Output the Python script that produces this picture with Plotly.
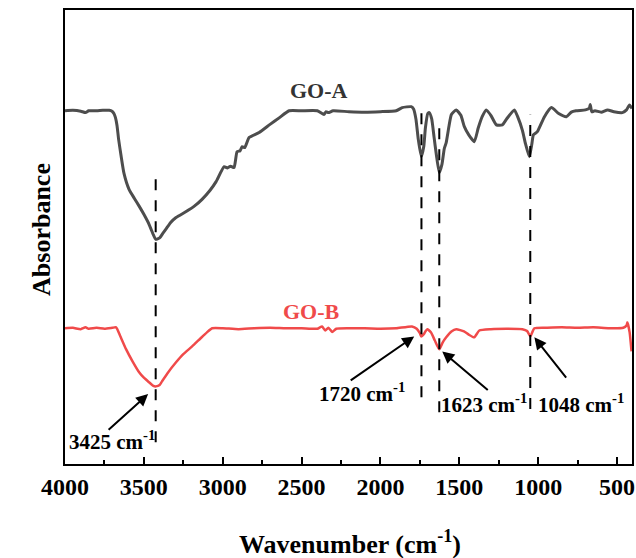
import plotly.graph_objects as go

# GO-A spectrum (wavenumber, absorbance a.u.)
goa_wn = [4000, 3950, 3900, 3870, 3850, 3800, 3760, 3720, 3702, 3690, 3680, 3670, 3660, 3645, 3626, 3594,
          3560, 3530, 3500, 3467, 3440, 3425, 3400, 3380, 3359, 3330, 3296, 3232, 3180, 3131, 3080, 3042, 2991, 2970, 2950, 2928, 2909,
          2890, 2877, 2860, 2833, 2769, 2700, 2640, 2579, 2500, 2400, 2370, 2357, 2345, 2330,
          2300, 2200, 2100, 2000, 1900, 1862, 1805, 1790, 1775, 1760, 1741, 1725, 1715, 1700, 1690, 1675, 1660, 1645, 1627,
          1610, 1595, 1583, 1565, 1550, 1519, 1490, 1468, 1440, 1405, 1380, 1355, 1329, 1300, 1265, 1227, 1200, 1151,
          1130, 1100, 1080, 1056, 1040, 1030, 1005, 960, 916, 870, 821, 790, 760, 700, 675, 670, 660, 640,
          600, 560, 520, 466, 440, 421, 405]
goa_ab = [0.778, 0.779, 0.777, 0.774, 0.778, 0.778, 0.779, 0.779, 0.777, 0.772, 0.763, 0.745, 0.715, 0.680, 0.640, 0.605,
          0.585, 0.568, 0.550, 0.528, 0.505, 0.495, 0.498, 0.508, 0.518, 0.532, 0.543, 0.556, 0.568, 0.583, 0.603, 0.622, 0.655, 0.652, 0.656, 0.653, 0.688,
          0.690, 0.699, 0.697, 0.719, 0.730, 0.748, 0.763, 0.778, 0.778, 0.778, 0.772, 0.770, 0.776, 0.774,
          0.778, 0.776, 0.775, 0.776, 0.778, 0.785, 0.787, 0.782, 0.760, 0.715, 0.677, 0.700, 0.740, 0.772, 0.774, 0.760, 0.720, 0.680, 0.642,
          0.660, 0.695, 0.708, 0.745, 0.770, 0.780, 0.768, 0.743, 0.725, 0.710, 0.740, 0.765, 0.780, 0.768, 0.747, 0.747, 0.760, 0.780,
          0.765, 0.735, 0.705, 0.677, 0.705, 0.725, 0.732, 0.765, 0.785, 0.772, 0.765, 0.775, 0.778, 0.780, 0.784, 0.792, 0.776, 0.778,
          0.775, 0.780, 0.776, 0.774, 0.780, 0.791, 0.783]

# GO-B spectrum
gob_wn = [4000, 3950, 3900, 3870, 3850, 3800, 3750, 3700, 3676, 3650, 3613, 3570, 3530, 3500, 3467, 3440, 3423, 3400,
          3385, 3350, 3296, 3250, 3194, 3140, 3100, 3067, 3000, 2900, 2800, 2700, 2600, 2500, 2400, 2370, 2350, 2330,
          2306, 2280, 2200, 2100, 2000, 1900, 1800, 1770, 1750, 1741, 1725, 1715, 1703, 1680, 1655, 1627, 1605, 1583, 1550, 1519,
          1470, 1440, 1405, 1373, 1300, 1200, 1100, 1070, 1050, 1035, 1024, 950, 850, 750, 650, 550, 460, 440,
          434, 420, 408]
gob_ab = [0.299, 0.300, 0.297, 0.301, 0.298, 0.300, 0.298, 0.300, 0.301, 0.282, 0.253, 0.225, 0.202, 0.190, 0.180, 0.172, 0.171, 0.174,
          0.182, 0.200, 0.224, 0.242, 0.259, 0.277, 0.290, 0.299, 0.299, 0.297, 0.299, 0.300, 0.299, 0.299, 0.298, 0.303, 0.294, 0.300,
          0.291, 0.298, 0.299, 0.299, 0.298, 0.299, 0.303, 0.298, 0.288, 0.281, 0.286, 0.292, 0.297, 0.290, 0.272, 0.253, 0.268, 0.279, 0.292, 0.297,
          0.292, 0.285, 0.279, 0.294, 0.297, 0.298, 0.297, 0.293, 0.281, 0.292, 0.299, 0.300, 0.301, 0.300, 0.301, 0.299, 0.300, 0.305,
          0.312, 0.290, 0.248]

# Peak guide lines (position, y bottom, y top)
peak_pos = [3425, 1740, 1627, 1050]
peak_ybot = [0.048, 0.147, 0.114, 0.121]
peak_ytop = [0.633, 0.791, 0.758, 0.769]

# Peak labels
peak_labels = ["3425 cm<sup>-1</sup>", "1720 cm<sup>-1</sup>", "1623 cm<sup>-1</sup>", "1048 cm<sup>-1</sup>"]
label_x = [3705, 2116, 1341, 726]
label_y = [0.052, 0.158, 0.134, 0.134]
arrow_tail_x = [3733, 2198, 1310, 815]
arrow_tail_y = [0.0725, 0.182, 0.160, 0.187]
arrow_head_x = [3473, 1786, 1608, 1024]
arrow_head_y = [0.154, 0.281, 0.248, 0.279]

x_ticks = [4000, 3500, 3000, 2500, 2000, 1500, 1000, 500]

FONT = "Liberation Serif"

fig = go.Figure()
fig.add_trace(go.Scatter(x=goa_wn, y=goa_ab, mode="lines", name="GO-A",
                         line=dict(color="#4d4d4d", width=3, shape="spline", smoothing=0.5)))
fig.add_trace(go.Scatter(x=gob_wn, y=gob_ab, mode="lines", name="GO-B",
                         line=dict(color="#f04a4a", width=2.5, shape="spline", smoothing=0.5)))
for p, yb, yt in zip(peak_pos, peak_ybot, peak_ytop):
    fig.add_trace(go.Scatter(x=[p, p], y=[yb, yt], mode="lines", showlegend=False,
                             line=dict(color="black", width=2, dash="11px,10px")))

for t, lx, ly in zip(peak_labels, label_x, label_y):
    fig.add_annotation(x=lx, y=ly, text=f"<b>{t}</b>", showarrow=False,
                       font=dict(family=FONT, size=21, color="black"))
for tx, ty, hx, hy in zip(arrow_tail_x, arrow_tail_y, arrow_head_x, arrow_head_y):
    fig.add_annotation(x=hx, y=hy, ax=tx, ay=ty, axref="x", ayref="y", xref="x", yref="y",
                       text="", showarrow=True, arrowhead=2, arrowsize=1.2, arrowwidth=2,
                       arrowcolor="black")

fig.add_annotation(x=2390, y=0.822, text="<b>GO-A</b>", showarrow=False,
                   font=dict(family=FONT, size=22, color="#333333"))
fig.add_annotation(x=2440, y=0.337, text="<b>GO-B</b>", showarrow=False,
                   font=dict(family=FONT, size=22, color="#f04a4a"))

# Axis titles
fig.add_annotation(xref="paper", yref="paper", x=0.503, y=-0.172, yanchor="middle",
                   text="<b>Wavenumber (cm<sup>-1</sup>)</b>", showarrow=False,
                   font=dict(family=FONT, size=26, color="black"))
fig.add_annotation(xref="paper", yref="paper", x=-0.071, y=0.516, textangle=-90,
                   text="<b>Absorbance</b>", showarrow=False,
                   font=dict(family=FONT, size=26, color="black"))

fig.update_layout(
    width=636, height=558,
    margin=dict(l=65, r=4, t=10, b=94),
    paper_bgcolor="white", plot_bgcolor="white",
    showlegend=False,
    font=dict(family=FONT, color="black"),
)
fig.update_xaxes(
    range=[4000, 405], tickvals=x_ticks, ticktext=[f"<b>{v}</b>" for v in x_ticks],
    ticks="inside", ticklen=7, tickwidth=2, tickcolor="black",
    minor=dict(dtick=250, tick0=0, ticks="inside", ticklen=4, tickwidth=2, tickcolor="black"),
    tickfont=dict(family=FONT, size=24, color="black"),
    showline=True, linewidth=2, linecolor="black", mirror=True,
    showgrid=False, zeroline=False, automargin=False,
)
fig.update_yaxes(
    range=[0, 1], showticklabels=False, ticks="",
    showline=True, linewidth=2, linecolor="black", mirror=True,
    showgrid=False, zeroline=False, automargin=False,
)

fig.write_html("out.html", config={"displayModeBar": False},
               post_script="document.body.style.margin='0';")
